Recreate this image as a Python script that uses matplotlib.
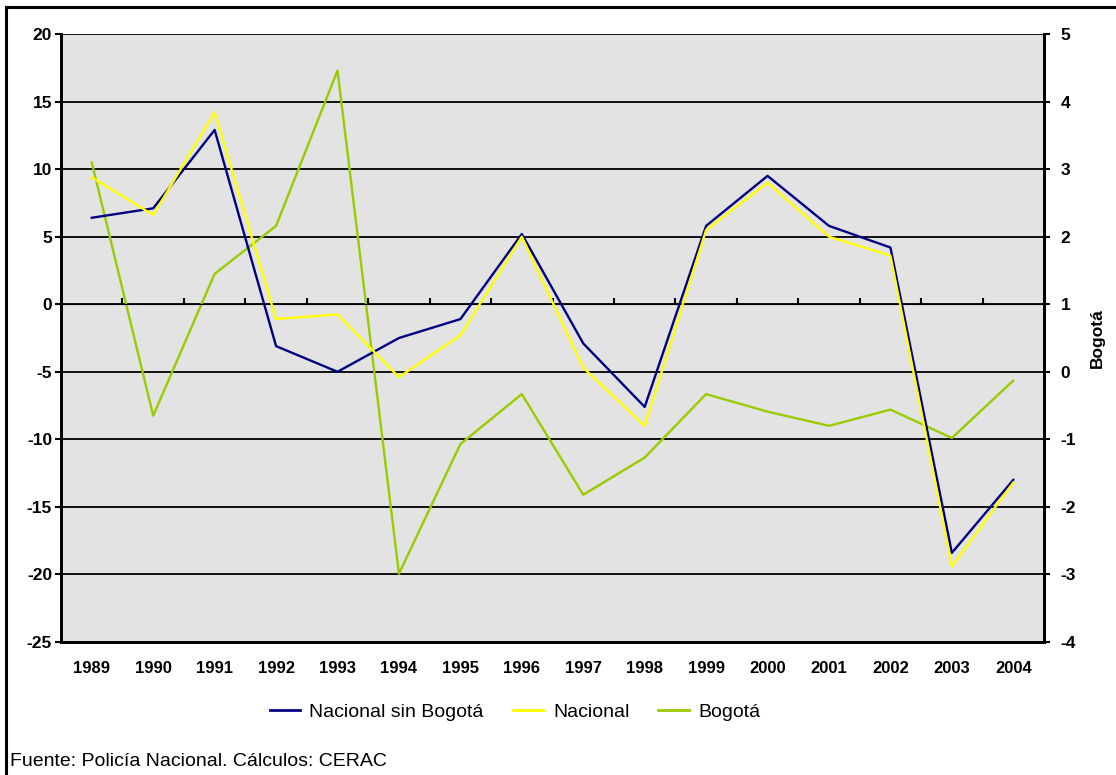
import matplotlib.pyplot as plt
import matplotlib.lines as mlines
import numpy as np

plt.rcParams["font.family"] = ["Liberation Sans", "DejaVu Sans"]
plt.rcParams["axes.unicode_minus"] = False

years = ["1989", "1990", "1991", "1992", "1993", "1994", "1995", "1996",
         "1997", "1998", "1999", "2000", "2001", "2002", "2003", "2004"]
nacional_sin_bogota = [6.4, 7.1, 12.9, -3.1, -5.0, -2.5, -1.1, 5.2,
                       -2.9, -7.6, 5.8, 9.5, 5.8, 4.2, -18.4, -13.0]
nacional = [9.4, 6.6, 14.2, -1.1, -0.75, -5.4, -2.3, 5.0,
            -4.7, -9.0, 5.5, 9.0, 5.0, 3.6, -19.4, -13.2]
bogota = [3.10, -0.65, 1.45, 2.16, 4.46, -2.99, -1.07, -0.33,
          -1.82, -1.27, -0.33, -0.59, -0.80, -0.56, -0.98, -0.13]

C_NAVY = "#000080"
C_YELLOW = "#FFFF00"
C_GREEN = "#99CC00"
LW = 1.7

fig = plt.figure(figsize=(11.16, 7.75), dpi=100)
ax2 = fig.add_axes([0.0547, 0.1716, 0.8808, 0.7845])
ax1 = ax2.twinx()
ax2.yaxis.tick_right()
ax2.yaxis.set_label_position("right")
ax1.yaxis.tick_left()
ax1.yaxis.set_label_position("left")

x = np.arange(len(years))

# Bogotá on the secondary (right) axis, drawn underneath
ax2.set_facecolor("#E3E3E3")
ax2.plot(x, bogota, color=C_GREEN, lw=LW, label="Bogotá")
ax2.set_ylim(-4, 5)
ax2.set_yticks(np.arange(-4, 6, 1))
ax2.grid(True, axis="y", color="black", lw=1.3)
ax2.set_axisbelow(True)
ax2.set_ylabel("Bogotá", fontsize=12.5, fontweight="bold", labelpad=10)
ax2.set_xticks(x)
ax2.set_xticklabels(years, fontweight="bold")
ax2.set_xlim(-0.5, len(years) - 0.5)

ax1.set_zorder(ax2.get_zorder() + 1)
ax1.patch.set_visible(False)
ax1.plot(x, nacional_sin_bogota, color=C_NAVY, lw=LW, label="Nacional sin Bogotá")
ax1.plot(x, nacional, color=C_YELLOW, lw=LW, label="Nacional")
ax1.set_ylim(-25, 20)
ax1.set_yticks(np.arange(-25, 21, 5))

for a in (ax1, ax2):
    a.spines["top"].set_visible(False)
    for s in ("left", "right", "bottom"):
        a.spines[s].set_linewidth(2)
    for lbl in a.get_yticklabels():
        lbl.set_fontweight("bold")

ax2.tick_params(axis="x", length=0, pad=14, labelsize=12)
ax1.tick_params(axis="y", labelsize=12.5, length=4.5, width=1.5, pad=2)
ax2.tick_params(axis="y", labelsize=12.5, length=4, width=1.5, pad=8)

# category tick marks on the zero line of the left axis
zero_pos = (0 - ax1.get_ylim()[0]) / (ax1.get_ylim()[1] - ax1.get_ylim()[0])
sec = ax1.secondary_xaxis(zero_pos)
sec.set_xticks(np.arange(-0.5, len(years), 1.0))
sec.tick_params(axis="x", direction="out", length=4, width=1.5, labelbottom=False,
                labeltop=False)
sec.spines["bottom"].set_linewidth(2)

handles = [
    mlines.Line2D([], [], color=C_NAVY, lw=2),
    mlines.Line2D([], [], color=C_YELLOW, lw=2),
    mlines.Line2D([], [], color=C_GREEN, lw=2),
]
fig.legend(handles, ["Nacional sin Bogotá", "Nacional", "Bogotá"],
           loc="center", bbox_to_anchor=(0.4615, 1 - 712 / 775), ncol=3,
           frameon=False, fontsize=14, handlelength=1.55, columnspacing=1.5,
           handletextpad=0.5)

fig.text(0.009, 1 - 762 / 775, "Fuente: Policía Nacional. Cálculos: CERAC",
         fontsize=14, ha="left", va="center")

# outer chart frame (left and top edges)
fig.add_artist(mlines.Line2D([0.0054, 0.0054], [0, 1 - 7 / 775],
                             transform=fig.transFigure, color="black", lw=2.2))
fig.add_artist(mlines.Line2D([0.0054, 1], [1 - 7 / 775, 1 - 7 / 775],
                             transform=fig.transFigure, color="black", lw=2.2))

fig.savefig("out.png", dpi=100)
